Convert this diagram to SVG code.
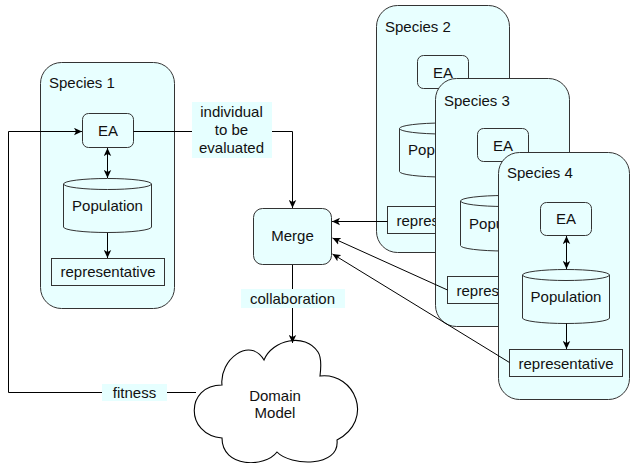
<svg xmlns="http://www.w3.org/2000/svg" width="630" height="463" viewBox="0 0 630 463">
  <defs>
    <style>
      text { font-family: "Liberation Sans", Arial, sans-serif; font-size: 15px; fill: #111; }
      .mid { text-anchor: middle; }
      .species { fill: #E8FFFF; stroke: #333; stroke-width: 1; }
      .box { fill: #E8FFFF; stroke: #333; stroke-width: 1; }
      .edge { fill: none; stroke: #000; stroke-width: 1; }
      .lbl { fill: #E6FFFF; stroke: none; }
      .cloud { fill: #fff; stroke: #000; stroke-width: 1.1; }
    </style>
    <marker id="arrow" viewBox="0 0 8 8" refX="8" refY="4" markerWidth="8" markerHeight="8" markerUnits="userSpaceOnUse" orient="auto-start-reverse">
      <path d="M0,0.3 L8,4 L0,7.7 L2,4 Z" fill="#000"/>
    </marker>
  </defs>

  <!-- Species 2 (back) -->
  <g id="species2">
    <rect class="species" x="376.5" y="5.5" width="133" height="247" rx="21"/>
    <text x="385" y="32">Species 2</text>
    <rect class="box" x="417.5" y="55.5" width="51" height="33" rx="6"/>
    <text class="mid" x="443" y="77.5">EA</text>
    <path class="box" d="M399.5,128.5 A44,5.5 0 0 1 487.5,128.5 L487.5,171.5 A44,5.5 0 0 1 399.5,171.5 Z M399.5,128.5 A44,5.5 0 0 0 487.5,128.5"/>
    <text class="mid" x="443.5" y="155">Population</text>
    <path class="edge" d="M443.5,89 V122" marker-start="url(#arrow)" marker-end="url(#arrow)"/>
    <path class="edge" d="M443.5,177 V206" marker-end="url(#arrow)"/>
    <rect class="box" x="387.5" y="206.5" width="113" height="27"/>
    <text class="mid" x="444" y="225.5">representative</text>
  </g>

  <!-- Species 3 -->
  <g id="species3">
    <rect class="species" x="435.5" y="78.5" width="134" height="248" rx="21"/>
    <text x="444" y="106">Species 3</text>
    <rect class="box" x="477.5" y="128.5" width="51" height="33" rx="6"/>
    <text class="mid" x="503" y="150.5">EA</text>
    <path class="box" d="M460.5,201 A44,5.5 0 0 1 548.5,201 L548.5,245.5 A44,5.5 0 0 1 460.5,245.5 Z M460.5,201 A44,5.5 0 0 0 548.5,201"/>
    <text class="mid" x="504.5" y="228.5">Population</text>
    <path class="edge" d="M503.5,162 V195" marker-start="url(#arrow)" marker-end="url(#arrow)"/>
    <path class="edge" d="M503.5,251 V276" marker-end="url(#arrow)"/>
    <rect class="box" x="447.5" y="276.5" width="113" height="27"/>
    <text class="mid" x="504" y="295.5">representative</text>
  </g>

  <!-- Species 4 (front) -->
  <g id="species4">
    <rect class="species" x="498.5" y="152.5" width="131" height="247" rx="21"/>
    <text x="507" y="178">Species 4</text>
    <rect class="box" x="540.5" y="202.5" width="51" height="33" rx="6"/>
    <text class="mid" x="566" y="224">EA</text>
    <path class="box" d="M522.5,275 A43.5,5.5 0 0 1 609.5,275 L609.5,318 A43.5,5.5 0 0 1 522.5,318 Z M522.5,275 A43.5,5.5 0 0 0 609.5,275"/>
    <text class="mid" x="566" y="302">Population</text>
    <path class="edge" d="M566.5,236 V269" marker-start="url(#arrow)" marker-end="url(#arrow)"/>
    <path class="edge" d="M566.5,323.5 V349" marker-end="url(#arrow)"/>
    <rect class="box" x="509.5" y="349.5" width="113" height="27"/>
    <text class="mid" x="566" y="368.5">representative</text>
  </g>

  <!-- Species 1 -->
  <g id="species1">
    <rect class="species" x="40.5" y="62.5" width="134" height="246" rx="21"/>
    <text x="49" y="88">Species 1</text>
    <rect class="box" x="82.5" y="113.5" width="51" height="34" rx="6"/>
    <text class="mid" x="108" y="136">EA</text>
    <path class="box" d="M63.5,184 A44,5.5 0 0 1 151.5,184 L151.5,227 A44,5.5 0 0 1 63.5,227 Z M63.5,184 A44,5.5 0 0 0 151.5,184"/>
    <text class="mid" x="107.5" y="211">Population</text>
    <path class="edge" d="M107.5,148 V178" marker-start="url(#arrow)" marker-end="url(#arrow)"/>
    <path class="edge" d="M107.5,232.5 V258" marker-end="url(#arrow)"/>
    <rect class="box" x="51.5" y="258.5" width="113" height="27"/>
    <text class="mid" x="108" y="277">representative</text>
  </g>

  <!-- Merge -->
  <g id="merge">
    <rect class="box" x="253.5" y="208.5" width="78" height="56" rx="9"/>
    <text class="mid" x="292.5" y="241">Merge</text>
  </g>

  <!-- Domain Model -->
  <g id="domain-model">
    <path class="cloud" d="M222,385 C219,360 250,336 264,360 C272,340 305,332 318,352 C322,358 321,368 320,376 C355,372 375,420 337,440 C340,468 290,466 277,452 C265,468 222,468 222,438 C185,435 185,385 222,385 Z"/>
    <text class="mid" x="275" y="401">Domain</text>
    <text class="mid" x="275" y="418">Model</text>
  </g>

  <!-- Connectors -->
  <g id="connectors">
    <path class="edge" d="M133.5,131.5 H292.5 V208" marker-end="url(#arrow)"/>
    <path class="edge" d="M387.5,221.5 H332" marker-end="url(#arrow)"/>
    <path class="edge" d="M447.5,290 L332.5,238" marker-end="url(#arrow)"/>
    <path class="edge" d="M509.5,362.5 L332.5,254" marker-end="url(#arrow)"/>
    <path class="edge" d="M292.5,265 V343" marker-end="url(#arrow)"/>
    <path class="edge" d="M196,392.5 H8.5 V131.5 H82" marker-end="url(#arrow)"/>

    <rect class="lbl" x="192" y="102" width="80" height="56"/>
    <text class="mid" x="231.5" y="117">individual</text>
    <text class="mid" x="231.5" y="135">to be</text>
    <text class="mid" x="231.5" y="153">evaluated</text>

    <rect class="lbl" x="241" y="289" width="104" height="19"/>
    <text class="mid" x="292.5" y="304">collaboration</text>

    <rect class="lbl" x="102" y="384" width="65" height="17"/>
    <text class="mid" x="134.5" y="398">fitness</text>
  </g>
</svg>
